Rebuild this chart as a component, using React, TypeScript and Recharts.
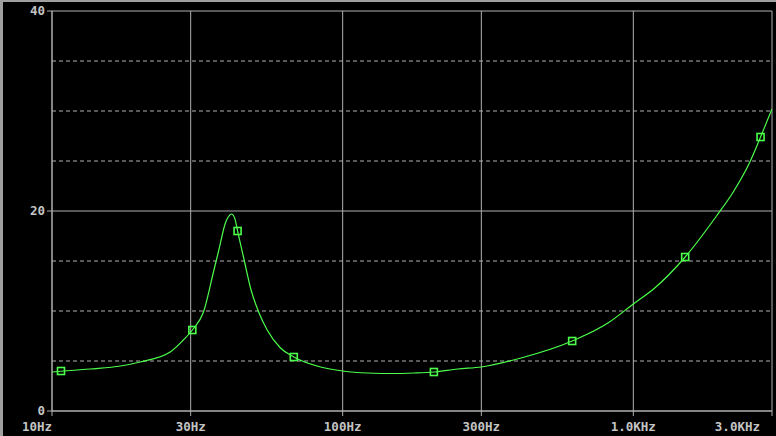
import React from "react";
import {
  ComposedChart,
  Line,
  Scatter,
  XAxis,
  YAxis,
  CartesianGrid,
  ReferenceLine,
} from "recharts";

// frequency response (Hz / value)
const freqHz = [
  10, 13.5, 17.2, 20.1, 25.5, 28.3, 30.4, 33.2, 36.0, 37.5, 39.5, 40.4, 41.4,
  42.5, 43.5, 45.9, 48.4, 51.4, 55.0, 61.1, 67.9, 84, 100, 122, 150, 176, 206,
  249, 300, 411, 616, 818, 1000, 1185, 1508, 1933, 2207, 2518, 2740, 3000,
];
const gain = [
  3.9, 4.2, 4.5, 4.9, 5.9, 7.1, 8.1, 9.9, 14.0, 16.1, 18.8, 19.4, 19.7, 19.3,
  18.0, 15.0, 12.1, 9.9, 8.1, 6.3, 5.4, 4.4, 4.0, 3.8, 3.75, 3.8, 3.9, 4.2, 4.4,
  5.3, 7.0, 8.8, 10.7, 12.3, 15.4, 19.5, 21.9, 24.9, 27.4, 30.2,
];

// trace markers (little squares)
const markerHz = [10.74, 30.4, 43.5, 67.9, 206, 616, 1508, 2740];
const markerGain = [4.0, 8.1, 18.0, 5.4, 3.9, 7.0, 15.4, 27.4];

const xTicks = [10, 30, 100, 300, 1000, 3000];
const xTickLabels = ["10Hz", "30Hz", "100Hz", "300Hz", "1.0KHz", "3.0KHz"];
const yTicks = [0, 20, 40];
const yMinor = [5, 10, 15, 25, 30, 35];

const curve = freqHz.map((f, i) => ({ f, v: gain[i] }));
const markers = markerHz.map((f, i) => ({ f, v: markerGain[i] }));

const GRID = "#b0b0b0";
const TEXT = "#c4c4c4";
const TRACE = "#4cff4c";
const FONT = "'DejaVu Sans Mono', monospace";

const XTick = ({ x, y, payload, index }: any) => {
  const i = xTicks.indexOf(payload.value);
  const last = i === xTicks.length - 1;
  const anchor = i === 0 || last ? "end" : "middle";
  return (
    <text
      x={x}
      y={y}
      dy={13}
      textAnchor={anchor}
      fill={TEXT}
      fontFamily={FONT}
      fontWeight="bold"
      fontSize={12.5}
    >
      {xTickLabels[i >= 0 ? i : index]}
    </text>
  );
};

const YTick = ({ x, y, payload }: any) => (
  <text
    x={x}
    y={y}
    dy={4}
    textAnchor="end"
    fill={TEXT}
    fontFamily={FONT}
    fontWeight="bold"
    fontSize={12.5}
  >
    {payload.value}
  </text>
);

const SquareMarker = ({ cx, cy }: any) => (
  <rect
    x={cx - 3.5}
    y={cy - 3.5}
    width={7}
    height={7}
    fill="none"
    stroke={TRACE}
    strokeWidth={1.6}
  />
);

export default function App() {
  return (
    <div
      style={{
        position: "fixed",
        left: 0,
        top: 0,
        width: 776,
        height: 436,
        background: "#000",
      }}
    >
      <ComposedChart
        width={776}
        height={436}
        margin={{ top: 11, right: 4, left: 0, bottom: 0 }}
      >
        <CartesianGrid stroke={GRID} strokeWidth={1} />
        {yMinor.map((v) => (
          <ReferenceLine
            key={v}
            y={v}
            stroke={GRID}
            strokeDasharray="4 3"
            ifOverflow="visible"
          />
        ))}
        <XAxis
          dataKey="f"
          type="number"
          scale="log"
          domain={[10, 3000]}
          ticks={xTicks}
          allowDataOverflow
          height={25}
          tickSize={5}
          stroke={GRID}
          tick={<XTick />}
        />
        <YAxis
          type="number"
          domain={[0, 40]}
          ticks={yTicks}
          width={52}
          tickSize={5}
          stroke={GRID}
          tick={<YTick />}
        />
        <Line
          data={curve}
          dataKey="v"
          type="monotone"
          stroke={TRACE}
          strokeWidth={1.2}
          dot={false}
          isAnimationActive={false}
        />
        <Scatter
          data={markers}
          dataKey="v"
          shape={<SquareMarker />}
          isAnimationActive={false}
        />
      </ComposedChart>
      <div
        style={{
          position: "absolute",
          left: 0,
          top: 0,
          width: 3,
          height: 436,
          background: "#a0a0a0",
        }}
      />
      <div
        style={{
          position: "absolute",
          left: 0,
          top: 0,
          width: 776,
          height: 2,
          background: "#a0a0a0",
        }}
      />
    </div>
  );
}
